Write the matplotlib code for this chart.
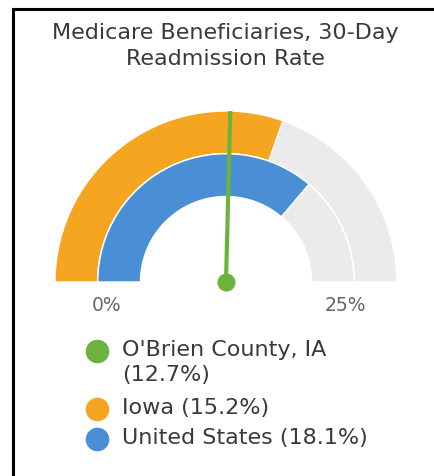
import numpy as np
import matplotlib
matplotlib.use("Agg")
import matplotlib.pyplot as plt
from matplotlib.patches import Wedge
from matplotlib.lines import Line2D

# gauge data
gauge_min = 0
gauge_max = 25
tick_labels = ["0%", "25%"]
county_name = "O'Brien County, IA"
county_value = 12.7
band_names = ["Iowa", "United States"]
band_values = [15.2, 18.1]

legend_labels = ["O'Brien County, IA\n(12.7%)", "Iowa (15.2%)", "United States (18.1%)"]
legend_colors = ["#6cb33e", "#f5a51f", "#4a8fd6"]

green = "#6cb33e"
band_colors = ["#f5a51f", "#4a8fd6"]
band_radii = [(0.75, 1.0), (0.5, 0.75)]
pane_color = "#ebebeb"

W, H = 435, 476
fig = plt.figure(figsize=(W / 100, H / 100), dpi=100)
fig.patch.set_facecolor("white")


def fx(px):
    return px / W


def fy(py):
    return 1 - py / H


# frame (left + top only)
fig.add_artist(Line2D([fx(13), fx(13)], [0, fy(9)], color="black", lw=2.2))
fig.add_artist(Line2D([fx(13), 1], [fy(9), fy(9)], color="black", lw=2.2))

fig.text(fx(225), fy(33), "Medicare Beneficiaries, 30-Day", ha="center", va="center",
         fontsize=16, color="#3a3a3a")
fig.text(fx(225), fy(59), "Readmission Rate", ha="center", va="center",
         fontsize=16, color="#3a3a3a")

# gauge axes: 1 data unit = R pixels
cx, cy, R = 226, 282, 171
x0, x1 = -1.1, 1.1
y0, y1 = -0.25, 1.05
ax = fig.add_axes([fx(cx + x0 * R), fy(cy - y0 * R), (x1 - x0) * R / W, (y1 - y0) * R / H])
ax.set_xlim(x0, x1)
ax.set_ylim(y0, y1)
ax.axis("off")


def to_angle(v):
    return 180 - (v - gauge_min) / (gauge_max - gauge_min) * 180


for (r_in, r_out), val, col in zip(band_radii, band_values, band_colors):
    ax.add_patch(Wedge((0, 0), r_out, 0, 180, width=r_out - r_in,
                       facecolor=pane_color, edgecolor="white", lw=1.2))
    ax.add_patch(Wedge((0, 0), r_out, to_angle(val), 180, width=r_out - r_in,
                       facecolor=col, edgecolor="white", lw=1.0))

a = np.deg2rad(to_angle(county_value))
ax.plot([0, np.cos(a)], [0, np.sin(a)], color=green, lw=3, solid_capstyle="butt")
ax.plot(0, 0, "o", color=green, ms=13, mec="none")

ax.text(-0.70, -0.137, tick_labels[0], ha="center", va="center", fontsize=13.5, color="#666666")
ax.text(0.70, -0.137, tick_labels[1], ha="center", va="center", fontsize=13.5, color="#666666")

# legend
row_y = [351, 409, 439]
for lab, col, yy in zip(legend_labels, legend_colors, row_y):
    fig.add_artist(Line2D([fx(97)], [fy(yy)], marker="o", ms=17, color=col, mec="none"))
    fig.text(fx(122), fy(yy - 11), lab, ha="left", va="top", fontsize=16,
             color="#3a3a3a", linespacing=1.3)

fig.savefig("out.png", dpi=100, facecolor="white")
